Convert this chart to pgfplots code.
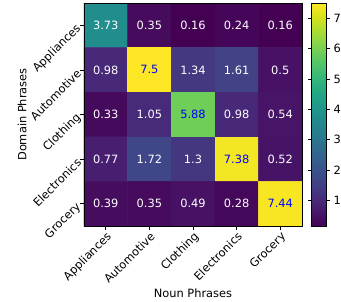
\documentclass[border=0pt]{standalone}
\usepackage{fontspec}
\setmainfont{DejaVu Sans}
\usepackage{pgfplots}
\pgfplotsset{compat=1.18}
\usepackage{pgfplotstable}
\pgfplotsset{/pgf/number format/assume math mode=true}
\newcommand{\lf}{\fontsize{11.4pt}{13pt}\selectfont}

\pgfplotstableread{
x y v
0 0 3.73
1 0 0.35
2 0 0.16
3 0 0.24
4 0 0.16
0 1 0.98
1 1 7.5
2 1 1.34
3 1 1.61
4 1 0.5
0 2 0.33
1 2 1.05
2 2 5.88
3 2 0.98
4 2 0.54
0 3 0.77
1 3 1.72
2 3 1.3
3 3 7.38
4 3 0.52
0 4 0.39
1 4 0.35
2 4 0.49
3 4 0.28
4 4 7.44
}\heat

\pgfplotstableread{
x y t
0 0 3.73
1 0 0.35
2 0 0.16
3 0 0.24
4 0 0.16
0 1 0.98
2 1 1.34
3 1 1.61
4 1 0.5
0 2 0.33
1 2 1.05
3 2 0.98
4 2 0.54
0 3 0.77
1 3 1.72
2 3 1.3
4 3 0.52
0 4 0.39
1 4 0.35
2 4 0.49
3 4 0.28
}\whitelab

\pgfplotstableread{
x y t
1 1 7.5
2 2 5.88
3 3 7.38
4 4 7.44
}\bluelab

\begin{document}
\begin{tikzpicture}
\begin{axis}[
  scale only axis, width=218pt, height=223pt,
  xmin=-0.5, xmax=4.5, ymin=-0.5, ymax=4.5, y dir=reverse,
  enlargelimits=false,
  xtick={0,...,4}, ytick={0,...,4},
  xticklabels={Appliances,Automotive,Clothing,Electronics,Grocery},
  yticklabels={Appliances,Automotive,Clothing,Electronics,Grocery},
  xticklabel style={rotate=45, anchor=north east, font=\lf, inner sep=1pt},
  yticklabel style={rotate=45, anchor=east, font=\lf, inner sep=2pt},
  tick align=outside, xtick pos=bottom, ytick pos=left,
  major tick length=3.5pt,
  tick style={black, line width=0.8pt},
  axis line style={line width=0.8pt},
  xlabel={Noun Phrases}, ylabel={Domain Phrases},
  label style={font=\lf},
  xlabel style={at={(axis description cs:0.5,-0.30)}, anchor=center},
  ylabel style={at={(axis description cs:-0.284,0.5)}, anchor=center, rotate=0},
  colormap/viridis, point meta min=0.16, point meta max=7.5,
  colorbar,
  colorbar style={
    at={(parent axis.north east)}, anchor=north west, xshift=1pt,
    width=15pt,
    ytick={1,...,7},
    yticklabel style={font=\lf},
    tick align=outside, major tick length=3.5pt,
    tick style={black, line width=0.8pt},
    axis line style={line width=0.8pt},
  },
  axis on top,
]
\addplot[matrix plot*, mesh/cols=5, point meta=explicit] table[x=x, y=y, meta=v] {\heat};
\addplot[draw=none, mark=none, nodes near coords, point meta=explicit symbolic,
  nodes near coords align=center,
  every node near coord/.append style={text=white, font=\lf}]
  table[x=x, y=y, meta=t] {\whitelab};
\addplot[draw=none, mark=none, nodes near coords, point meta=explicit symbolic,
  nodes near coords align=center,
  every node near coord/.append style={text=blue, font=\lf}]
  table[x=x, y=y, meta=t] {\bluelab};
\coordinate (BL) at (axis cs:-0.5,4.5);
\end{axis}
\pgfresetboundingbox
\path[use as bounding box] (BL) ++(-84pt,-75pt) rectangle ++(341pt,301pt);
\end{tikzpicture}
\end{document}
